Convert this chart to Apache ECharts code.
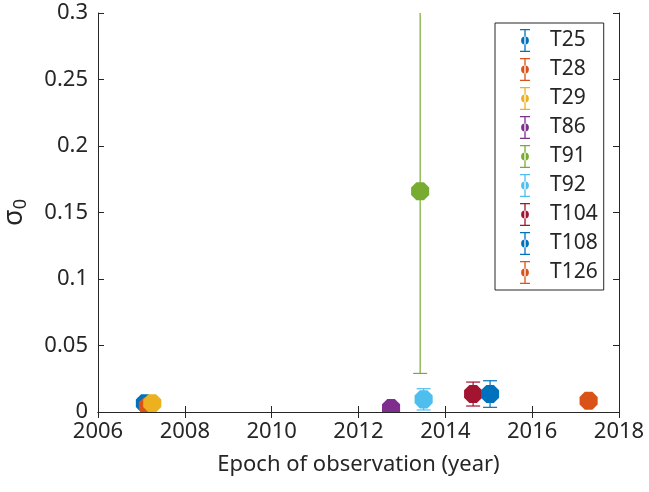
<!DOCTYPE html>
<html>
<head>
<meta charset="utf-8">
<script src="https://cdn.jsdelivr.net/npm/echarts@6/dist/echarts.min.js"></script>
<style>
  html, body { margin: 0; padding: 0; background: #fff; }
  #chart { width: 649px; height: 492px; }
</style>
</head>
<body>
<div id="chart"></div>
<script>
// tracks and their estimated sigma_0 per observation epoch
const trackNames = ["T25", "T28", "T29", "T86", "T91", "T92", "T104", "T108", "T126"];
const epochs = [2007.08, 2007.15, 2007.25, 2012.75, 2013.42, 2013.5, 2014.64, 2015.03, 2017.3];
const sigma0 = [0.0065, 0.0045, 0.0065, 0.003, 0.166, 0.0095, 0.0135, 0.0135, 0.0085];
const sigmaErr = [0.004, 0.003, 0.002, 0.001, 0.137, 0.008, 0.009, 0.01, 0.003];
const trackColors = [
  "#0072BD", "#D95319", "#EDB120", "#7E2F8E", "#77AC30",
  "#4DBEEE", "#A2142F", "#0072BD", "#D95319",
];
const xTicks = [2006, 2018, 2];
const yTicks = [0, 0.3, 0.05];

const AXIS_COLOR = "#262626";
const FONT = "'Noto Sans', 'Open Sans', sans-serif";

// error bar + dot glyph used in the legend
const LEGEND_ICON =
  "path://M1 0H11V1.3H1Z M5.35 1H6.65V22H5.35Z M1 21.7H11V23H1Z " +
  "M2.1 11.5A3.9 3.9 0 1 0 9.9 11.5A3.9 3.9 0 1 0 2.1 11.5Z";

const octagon = (cx, cy, r) => {
  const pts = [];
  for (let i = 0; i < 8; i++) {
    const a = Math.PI / 8 + (i * Math.PI) / 4;
    pts.push([cx + r * Math.cos(a), cy + r * Math.sin(a)]);
  }
  return pts;
};

const makeErrorSeries = (name, idx) => {
  const color = trackColors[idx];
  return {
    name,
    type: "custom",
    clip: true,
    data: [[epochs[idx], sigma0[idx], sigmaErr[idx]]],
    encode: { x: 0, y: 1 },
    renderItem: (params, api) => {
      const x = api.value(0);
      const y = api.value(1);
      const err = api.value(2);
      const mid = api.coord([x, y]);
      const hi = api.coord([x, y + err]);
      const lo = api.coord([x, y - err]);
      const cap = 7;
      const style = { stroke: color, lineWidth: 1.2, fill: null };
      return {
        type: "group",
        children: [
          { type: "line", shape: { x1: mid[0], y1: hi[1], x2: mid[0], y2: lo[1] }, style },
          { type: "line", shape: { x1: mid[0] - cap, y1: hi[1], x2: mid[0] + cap, y2: hi[1] }, style },
          { type: "line", shape: { x1: mid[0] - cap, y1: lo[1], x2: mid[0] + cap, y2: lo[1] }, style },
          {
            type: "polygon",
            shape: { points: octagon(mid[0], mid[1], 9.8) },
            style: { fill: color },
          },
        ],
      };
    },
  };
};

const chart = echarts.init(document.getElementById("chart"));

const baseAxis = {
  axisLine: { show: true, lineStyle: { color: AXIS_COLOR, width: 1 } },
  axisTick: { show: true, inside: true, length: 6, lineStyle: { color: AXIS_COLOR } },
  splitLine: { show: false },
};

chart.setOption({
  backgroundColor: "#fff",
  animation: false,
  color: trackColors,
  grid: { left: 98, right: 30, top: 13, bottom: 80, containLabel: false, outerBoundsMode: "none" },
  legend: {
    orient: "vertical",
    left: 495,
    top: 23,
    padding: [6, 6, 6, 25],
    itemWidth: 12,
    itemHeight: 23,
    itemGap: 6,
    itemTextGap: 21,
    backgroundColor: "#fff",
    borderColor: AXIS_COLOR,
    borderWidth: 1,
    borderRadius: 0,
    textStyle: { fontFamily: FONT, fontSize: 21, color: AXIS_COLOR, padding: [0, 0, 0, 14] },
    data: trackNames.map((name) => ({ name, icon: LEGEND_ICON })),
  },
  xAxis: [
    {
      ...baseAxis,
      type: "value",
      min: xTicks[0],
      max: xTicks[1],
      interval: xTicks[2],
      name: "Epoch of observation (year)",
      nameLocation: "middle",
      nameGap: 42,
      nameTextStyle: { fontFamily: FONT, fontSize: 22, color: AXIS_COLOR },
      axisLabel: {
        fontFamily: FONT,
        fontSize: 22,
        color: AXIS_COLOR,
        margin: 9,
        formatter: (v) => String(v),
      },
    },
    {
      ...baseAxis,
      type: "value",
      position: "top",
      min: xTicks[0],
      max: xTicks[1],
      interval: xTicks[2],
      axisLabel: { show: false },
    },
  ],
  yAxis: [
    {
      ...baseAxis,
      type: "value",
      min: yTicks[0],
      max: yTicks[1],
      interval: yTicks[2],
      name: "{s|σ}{sub|0}",
      nameLocation: "middle",
      nameRotate: 90,
      nameGap: 68,
      nameTextStyle: {
        rich: {
          s: { fontFamily: FONT, fontSize: 27, color: AXIS_COLOR },
          sub: { fontFamily: FONT, fontSize: 18, color: AXIS_COLOR, verticalAlign: "bottom", padding: [14, 0, 0, 0] },
        },
      },
      axisLabel: { fontFamily: FONT, fontSize: 22, color: AXIS_COLOR, margin: 10 },
    },
    {
      ...baseAxis,
      type: "value",
      position: "right",
      min: yTicks[0],
      max: yTicks[1],
      interval: yTicks[2],
      axisLabel: { show: false },
    },
  ],
  series: trackNames.map(makeErrorSeries),
});
</script>
</body>
</html>
